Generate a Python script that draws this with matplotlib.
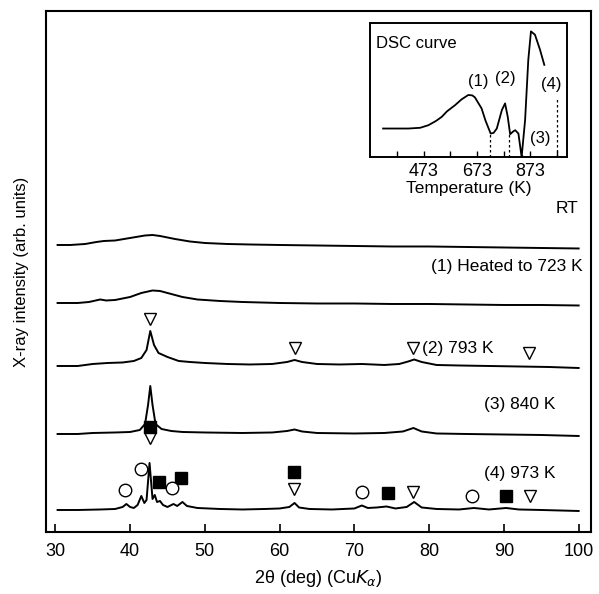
import matplotlib
matplotlib.use('agg')
import matplotlib.pyplot as plt

plt.rcParams['font.family'] = ['Liberation Sans', 'DejaVu Sans']

# XRD traces: 2theta (deg) and intensity (arb. units, already stacked)
rt_x = [30.3, 32, 34, 35.5, 36.5, 38, 40, 42, 43, 44, 46, 48, 50, 53, 56, 60,
        65, 70, 75, 80, 85, 90, 95, 100]
rt_y = [287, 287, 288, 290, 291, 291.5, 294, 296.5, 297, 296, 293, 290.5, 289,
        288, 287.5, 287, 286.5, 286, 285.5, 285.5, 285, 284.5, 284, 283.5]

h723_x = [30.3, 33, 34.5, 36, 36.8, 38, 40, 41.5, 43, 44, 45.5, 47, 49, 52, 55,
          60, 65, 70, 75, 80, 85, 90, 95, 100]
h723_y = [229, 229, 230, 232.5, 231.5, 232, 235, 239, 241.5, 241, 238, 235,
          232.5, 231, 230, 229, 228.5, 228.5, 228, 228, 227.5, 227, 227, 226.5]

h793_x = [30.3, 33, 35, 37, 39, 40.5, 41.5, 42.2, 42.7, 43.2, 43.8, 45, 46.5,
          48, 50, 53, 56, 59, 61, 62, 63, 65, 68, 71, 74, 76, 77.2, 78, 79, 81,
          84, 88, 92, 96, 100]
h793_y = [166, 166, 168, 169, 169.5, 171, 174, 182, 201, 187, 179, 175, 171,
          170, 169, 168, 167.5, 168, 170, 172, 170, 168, 167.5, 168, 167, 168,
          170.5, 172.5, 170, 167, 166.5, 166, 165.5, 165, 164]

h840_x = [30.3, 33, 35, 38, 40, 41.3, 42, 42.4, 42.7, 43, 43.4, 44.2, 45.5, 47,
          50, 55, 59, 61, 62, 63, 65, 70, 74, 76.5, 77.9, 79, 81, 85, 90, 95,
          100]
h840_y = [98, 98, 99, 99.5, 100, 102, 108, 127, 146, 127, 108, 103, 101, 100,
          99.5, 99, 99.5, 101, 102.5, 100.5, 99, 98.5, 99, 100.5, 104, 100.5,
          98.5, 98, 97.5, 97, 96]

h973_x = [30.3, 33, 36, 38, 39, 39.5, 40, 40.5, 41, 41.5, 41.9, 42.2, 42.6, 43,
          43.3, 43.6, 44, 44.4, 45, 45.8, 46.3, 47, 47.6, 49, 52, 55, 58, 60,
          61.3, 62, 62.6, 64, 67, 70, 71, 71.8, 73, 74.3, 75.5, 77, 78, 79, 81,
          84, 86, 88, 90.3, 92, 95, 100]
h973_y = [22, 22, 22.5, 23, 25, 28, 25, 24, 27, 36, 29, 32, 69, 33, 37, 30, 31,
          27, 25, 28, 26, 30, 26, 24, 23, 22.5, 23, 23.5, 25, 29, 24.5, 23, 22.5,
          23.5, 26.5, 24, 24.5, 25.5, 23.5, 25, 30, 24.5, 23, 22.5, 24, 22.5,
          24, 22.5, 22, 21]

# phase markers (2theta, height)
tri_x = [42.7, 62.0, 77.9, 93.3, 42.7, 61.9, 77.9, 93.5]
tri_y = [213, 184, 184, 179, 94, 43, 40, 36]
sq_x = [42.7, 43.8, 46.8, 61.9, 74.5, 90.3]
sq_y = [105, 50, 54, 60, 39, 36]
circ_x = [39.3, 41.5, 45.6, 71.0, 85.8]
circ_y = [42, 63, 44, 40, 36]

# DSC inset curve: temperature (K) and heat flow (arb. units)
dsc_t = [321, 416, 460, 491, 520, 541, 560, 591, 615, 640, 655, 665, 690, 705,
         724, 735, 747, 766, 778, 788, 797, 808, 816, 828, 840, 853, 865, 875,
         890, 909, 925]
dsc_y = [.2125, .2125, .218, .2375, .27, .30, .34, .3875, .43, .4625, .46,
         .445, .3625, .27, .175, .18, .2125, .35, .40, .30, .17, .19, .20,
         .175, 0.0, .275, .725, .9375, .9125, .80, .6875]
dsc_marks = [723, 793, 840, 973]
dsc_mark_top = [.175, .17, .03, .44]

fig = plt.figure(figsize=(5.99, 5.94), dpi=100)
ax = fig.add_axes([0.0768, 0.1044, 0.9098, 0.8771])

for xs, ys in [(rt_x, rt_y), (h723_x, h723_y), (h793_x, h793_y),
               (h840_x, h840_y), (h973_x, h973_y)]:
    ax.plot(xs, ys, color='black', lw=1.4)

ax.plot(tri_x, tri_y, 'v', ms=9, mfc='white', mec='black', mew=1.0, ls='none')
ax.plot(sq_x, sq_y, 's', ms=8.5, mfc='black', mec='black', ls='none')
ax.plot(circ_x, circ_y, 'o', ms=9, mfc='white', mec='black', mew=1.0, ls='none')

ax.text(98.4, 323, 'RT', fontsize=12.5, ha='center', va='center')
ax.text(100.6, 265, '(1) Heated to 723 K', fontsize=12.5, ha='right', va='center')
ax.text(79.0, 183, '(2) 793 K', fontsize=12.5, ha='left', va='center')
ax.text(87.4, 127, '(3) 840 K', fontsize=12.5, ha='left', va='center')
ax.text(87.4, 58, '(4) 973 K', fontsize=12.5, ha='left', va='center')

ax.set_xlim(28.75, 101.65)
ax.set_ylim(0, 521)
ax.set_xticks(range(30, 101, 10))
ax.set_yticks([])
ax.tick_params(axis='x', direction='in', length=6, width=1.2, labelsize=13, pad=8)
for s in ax.spines.values():
    s.set_linewidth(1.5)
ax.set_xlabel('2θ (deg) (Cu$K_\\alpha$)', fontsize=13, labelpad=6)
ax.set_ylabel('X-ray intensity (arb. units)', fontsize=12, labelpad=12)

# DSC inset
ins = fig.add_axes([370 / 599, 1 - 157 / 594, 197 / 599, 134 / 594])
ins.plot(dsc_t, dsc_y, color='black', lw=1.3)
ins.vlines(dsc_marks, 0, dsc_mark_top, colors='black', linestyles=(0, (2, 2)), lw=0.9)
ins.set_xlim(272, 1010)
ins.set_ylim(0, 1)
ins.set_xticks(range(373, 974, 100))
ins.set_xticklabels(['', '473', '', '673', '', '873', ''])
ins.set_yticks([])
ins.tick_params(axis='x', direction='in', length=4, width=1, labelsize=13, pad=4)
for s in ins.spines.values():
    s.set_linewidth(1.4)
ins.set_xlabel('Temperature (K)', fontsize=12.5, labelpad=1)
ins.text(0.03, 0.85, 'DSC curve', transform=ins.transAxes, fontsize=12,
         ha='left', va='center')
ins.text(678, .5625, '(1)', fontsize=12, ha='center', va='center')
ins.text(778, .5875, '(2)', fontsize=12, ha='center', va='center')
ins.text(911, .1375, '(3)', fontsize=12, ha='center', va='center')
ins.text(950, .5375, '(4)', fontsize=12, ha='center', va='center')

fig.savefig('out.png', dpi=100)
